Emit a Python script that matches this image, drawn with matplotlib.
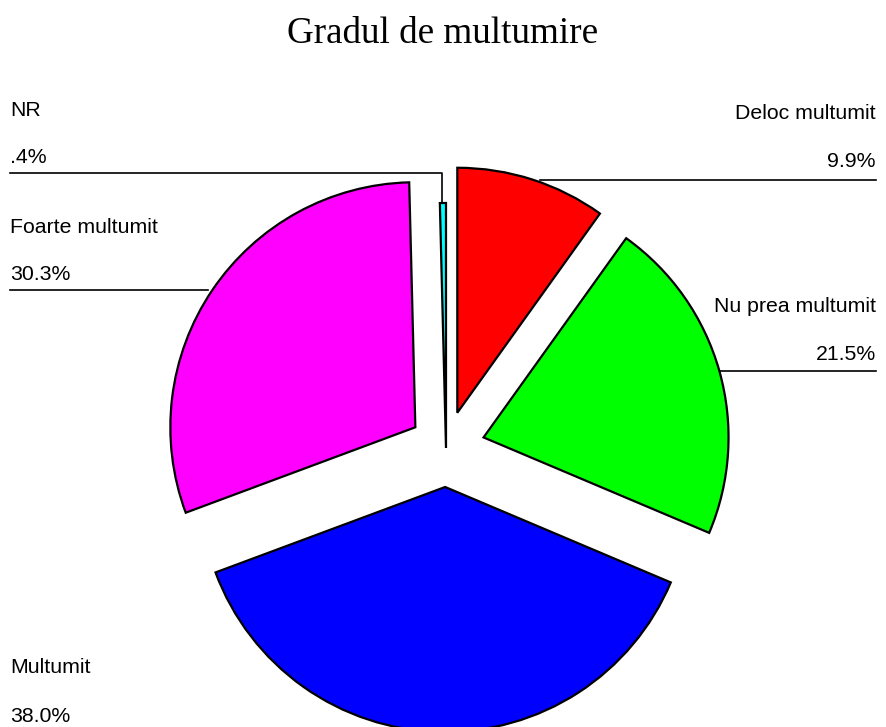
import matplotlib
matplotlib.use("Agg")
import matplotlib.pyplot as plt

# Data
categories = ["Deloc multumit", "Nu prea multumit", "Multumit", "Foarte multumit", "NR"]
percent = [9.9, 21.5, 38.0, 30.3, 0.4]
pct_labels = ["9.9%", "21.5%", "38.0%", "30.3%", ".4%"]
colors = ["#FF0000", "#00FF00", "#0000FF", "#FF00FF", "#00FFFF"]
explode = [37, 39, 39, 37, 0]  # offsets in pixels

W, H = 886, 727
fig = plt.figure(figsize=(W / 100, H / 100), dpi=100)
ax = fig.add_axes([0, 0, 1, 1])

def Y(y):
    return H - y

cx, cy, R = 446, 448, 245
ax.pie(percent, colors=colors, explode=explode, startangle=90, counterclock=False,
       center=(cx, Y(cy)), radius=R, frame=True,
       wedgeprops=dict(edgecolor="black", linewidth=1.6))
ax.set_xlim(0, W)
ax.set_ylim(0, H)
ax.set_aspect("equal")
ax.axis("off")

ax.text(443, Y(43), "Gradul de multumire", ha="center", va="baseline",
        fontsize=26.7, family="Liberation Serif")

fs = 15.3
font = "Liberation Sans"
layout = {
    4: (10, "left", 116, 163),
    0: (876, "right", 119, 167),
    1: (876, "right", 312, 360),
    3: (10, "left", 233, 280),
    2: (10, "left", 673, 722),
}
for i, (x, ha, yb1, yb2) in layout.items():
    ax.text(x, Y(yb1), categories[i], ha=ha, va="baseline", fontsize=fs, family=font)
    ax.text(x, Y(yb2), pct_labels[i], ha=ha, va="baseline", fontsize=fs, family=font)

lw = 1.2
ax.plot([10, 442, 442], [Y(173), Y(173), Y(203)], color="black", lw=lw)
ax.plot([876, 540], [Y(180), Y(180)], color="black", lw=lw)
ax.plot([876, 720], [Y(371), Y(371)], color="black", lw=lw)
ax.plot([10, 208], [Y(290), Y(290)], color="black", lw=lw)

fig.savefig("out.png", dpi=100, facecolor="white")
